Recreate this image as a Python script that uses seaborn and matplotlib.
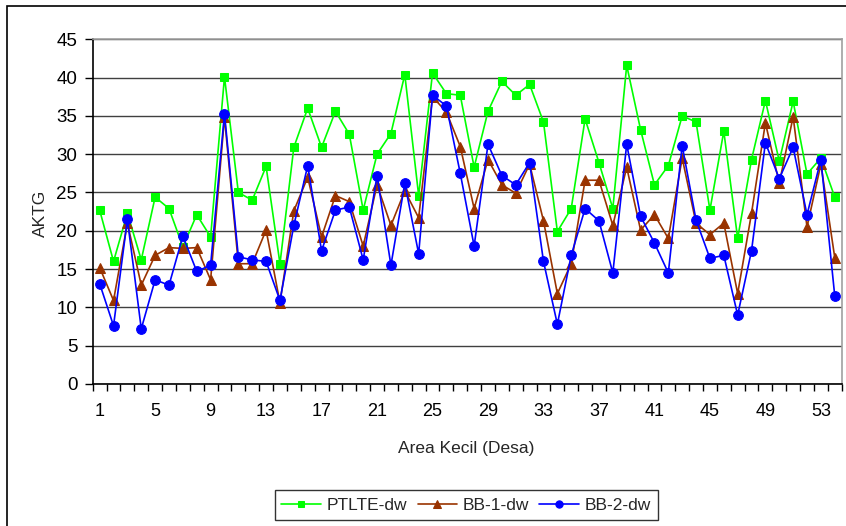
import numpy as np
import pandas as pd
import matplotlib
matplotlib.use("Agg")
import matplotlib.pyplot as plt
from matplotlib.patches import Rectangle
import seaborn as sns

# Area index (Desa 1..54)
desa = list(range(1, 55))

ptlte_dw = [22.7, 16.0, 22.3, 16.2, 24.4, 22.9, 17.9, 22.1, 19.2, 40.1,
            25.0, 24.0, 28.4, 15.7, 30.9, 36.0, 30.9, 35.6, 32.6, 22.7,
            30.0, 32.7, 40.4, 24.6, 40.6, 37.9, 37.7, 28.3, 35.6, 39.5,
            37.7, 39.1, 34.2, 19.9, 22.9, 34.6, 28.9, 22.9, 41.6, 33.2,
            26.0, 28.5, 35.0, 34.2, 22.7, 33.0, 19.0, 29.3, 37.0, 29.1,
            36.9, 27.4, 29.5, 24.4]

bb1_dw = [15.2, 10.9, 21.0, 12.9, 16.8, 17.8, 17.7, 17.8, 13.6, 34.8,
          15.7, 15.7, 20.1, 10.6, 22.6, 27.0, 19.2, 24.6, 23.8, 18.0,
          26.0, 20.7, 25.2, 21.7, 37.5, 35.5, 31.0, 22.9, 29.3, 26.0,
          24.9, 28.7, 21.3, 11.8, 15.7, 26.6, 26.6, 20.7, 28.3, 20.1,
          22.1, 19.0, 29.5, 21.0, 19.5, 21.0, 11.8, 22.3, 34.1, 26.2,
          34.9, 20.5, 28.7, 16.5]

bb2_dw = [13.1, 7.6, 21.5, 7.2, 13.6, 12.9, 19.3, 14.7, 15.5, 35.3,
          16.6, 16.2, 16.0, 10.9, 20.7, 28.5, 17.4, 22.7, 23.1, 16.2,
          27.2, 15.5, 26.2, 17.0, 37.7, 36.3, 27.5, 18.0, 31.3, 27.2,
          26.0, 28.9, 16.0, 7.8, 16.8, 22.9, 21.3, 14.5, 31.3, 21.9,
          18.4, 14.5, 31.1, 21.4, 16.4, 16.8, 9.0, 17.4, 31.5, 26.8,
          30.9, 22.1, 29.3, 11.5]

series = [
    ("PTLTE-dw", ptlte_dw, "#00ff00", "s", 6),
    ("BB-1-dw", bb1_dw, "#993300", "^", 7),
    ("BB-2-dw", bb2_dw, "#0000ff", "o", 7),
]

sns.set_theme(style="white")
plt.rcParams['font.family'] = ['Liberation Sans', 'DejaVu Sans']

fig = plt.figure(figsize=(8.46, 5.26), dpi=100)
ax = fig.add_axes([0.1096, 0.27, 0.8853, 0.6553])

for name, vals, color, marker, ms in series:
    df = pd.DataFrame({'desa': desa, 'value': vals})
    sns.lineplot(data=df, x='desa', y='value', ax=ax, color=color, marker=marker,
                 markersize=ms, markeredgecolor=color, linewidth=1.2, label=name)

ax.set_xlim(0.5, 54.5)
ax.set_ylim(0, 45)
ax.set_yticks(np.arange(0, 46, 5))
ax.set_xticks(np.arange(1, 55, 4))
ax.set_xticks(np.arange(0.5, 55, 1), minor=True)
ax.grid(False)
ax.yaxis.grid(True, color='#404040', linewidth=1)
ax.set_axisbelow(True)

ax.tick_params(axis='y', which='major', length=6, width=1, color='black',
               direction='out', left=True, pad=5, labelsize=13.5, labelcolor='black')
ax.tick_params(axis='x', which='major', length=0, pad=14, labelsize=13, labelcolor='black')
ax.tick_params(axis='x', which='minor', length=5, width=1, color='black',
               direction='out', bottom=True)

ax.spines['left'].set_color('black')
ax.spines['bottom'].set_color('black')
ax.spines['top'].set_color('#a0a0a0')
ax.spines['right'].set_color('#a0a0a0')
for sp in ax.spines.values():
    sp.set_linewidth(1.2)

ax.set_xlabel('')
ax.set_ylabel('')
fig.text(40 / 846, 1 - 213 / 526, 'AKTG', rotation=90, ha='center', va='center', fontsize=12.5)
fig.text(0.5514, 1 - 449 / 526, 'Area Kecil (Desa)', ha='center', va='center', fontsize=12.5)

ax.get_legend().remove()
handles, labels = ax.get_legend_handles_labels()
leg = fig.legend(handles, labels, loc='center', bbox_to_anchor=(0.551, 1 - 505 / 526),
                 ncol=3, fontsize=12.5, frameon=True, fancybox=False, handlelength=2.3,
                 columnspacing=0.6, handletextpad=0.3, borderpad=0.4, markerscale=0.75)
leg.get_frame().set_edgecolor('black')
leg.get_frame().set_linewidth(1)

fig.patches.append(Rectangle((7 / 846, -0.1), 1.2, 1 - 6 / 526 + 0.1, transform=fig.transFigure,
                             fill=False, edgecolor='black', linewidth=1.2))

fig.savefig('out.png', dpi=100)
